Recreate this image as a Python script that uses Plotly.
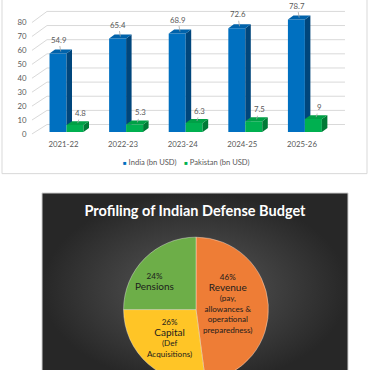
import math
import plotly.graph_objects as go

W, H = 370, 386

# ---------------- data ----------------
years = ['2021-22', '2022-23', '2023-24', '2024-25', '2025-26']
india = [54.9, 65.4, 68.9, 72.6, 78.7]
pakistan = [4.8, 5.3, 6.3, 7.5, 9]
india_name = 'India (bn USD)'
pak_name = 'Pakistan (bn USD)'
yticks = [0, 10, 20, 30, 40, 50, 60, 70, 80]

pie_title = 'Profiling of Indian Defense Budget'
pie_labels = ['Revenue', 'Capital', 'Pensions']
pie_values = [46, 26, 24]
pie_pct = ['46%', '26%', '24%']
pie_notes = ['(pay,<br>allowances &<br>operational<br>preparedness)', '(Def<br>Acquisitions)', '']

# ---------------- geometry helpers ----------------
def fx(p):
    return p / W

def fy(p):
    return 1 - p / H

X0_PX, X_UNIT = 66.5, 59.6
X_RANGE = [-0.62, 4.72]
x_dom = [fx(X0_PX + X_RANGE[0] * X_UNIT), fx(X0_PX + X_RANGE[1] * X_UNIT)]
DOM_TOP, DOM_BOT = 10, 137
y_dom = [fy(DOM_BOT), fy(DOM_TOP)]
FRONT_ZERO, FRONT_PER = 133, 1.44      # bars plane
LABEL_ZERO, LABEL_PER = 135, 1.404     # tick-label plane
BACK_ZERO, BACK_PER = 125.5, 1.425     # back wall plane
y_range = [(LABEL_ZERO - DOM_BOT) / LABEL_PER, (LABEL_ZERO - DOM_TOP) / LABEL_PER]
y2_range = [(FRONT_ZERO - DOM_BOT) / FRONT_PER, (FRONT_ZERO - DOM_TOP) / FRONT_PER]

BARGAP = 0.43
BW = (1 - BARGAP) / 2
DXC = 5.5 / X_UNIT        # depth in x units
DYV = 4.0 / FRONT_PER     # depth in y units

def px_to_c(p):
    return (p - X0_PX) / X_UNIT

GRID_X = [px_to_c(32), px_to_c(47), px_to_c(345)]

xs = list(range(len(years)))

IND_FRONT, IND_SIDE, IND_TOP = '#0070C0', '#00467C', '#0062AA'
PAK_FRONT, PAK_SIDE, PAK_TOP = '#00B050', '#007A36', '#00A046'
TXT = '#595959'
FONT = 'Lato'

fig = go.Figure()

# back-wall gridlines (label plane axis)
gx, gy = [], []
for v in yticks:
    u = (LABEL_ZERO - (BACK_ZERO - BACK_PER * v)) / LABEL_PER
    gx += [GRID_X[0], GRID_X[1], GRID_X[2], None]
    gy += [v, u, u, None]
fig.add_trace(go.Scatter(x=gx, y=gy, mode='lines', line=dict(color='#d9d9d9', width=1),
                         xaxis='x', yaxis='y', hoverinfo='skip', showlegend=False))

# bars (front plane)
fig.add_trace(go.Bar(x=xs, y=india, name=india_name, marker=dict(color=IND_FRONT, line=dict(width=0)),
                     xaxis='x', yaxis='y2', hoverinfo='skip', showlegend=False))
fig.add_trace(go.Bar(x=xs, y=pakistan, name=pak_name, marker=dict(color=PAK_FRONT, line=dict(width=0)),
                     xaxis='x', yaxis='y2', hoverinfo='skip', showlegend=False))

# 3D faces
def faces():
    isx, isy, itx, ity, psx, psy, ptx, pty = [], [], [], [], [], [], [], []
    for i, (h, p) in enumerate(zip(india, pakistan)):
        xl, xr = i - BW, i
        isx += [xr, xr + DXC, xr + DXC, xr, xr, None]
        isy += [p, p, h + DYV, h, p, None]
        itx += [xl, xr, xr + DXC, xl + DXC, xl, None]
        ity += [h, h, h + DYV, h + DYV, h, None]
        pl, pr = i, i + BW
        psx += [pr, pr + DXC, pr + DXC, pr, pr, None]
        psy += [0, DYV, p + DYV, p, 0, None]
        ptx += [pl, pr, pr + DXC, pl + DXC, pl, None]
        pty += [p, p, p + DYV, p + DYV, p, None]
    return (isx, isy, IND_SIDE), (itx, ity, IND_TOP), (psx, psy, PAK_SIDE), (ptx, pty, PAK_TOP)

for fxs, fys, col in faces():
    fig.add_trace(go.Scatter(x=fxs, y=fys, mode='lines', fill='toself', fillcolor=col,
                             line=dict(width=0, color=col), xaxis='x', yaxis='y2',
                             hoverinfo='skip', showlegend=False))

# dark panel background (decorative)
fig.add_trace(go.Scatter(x=[42, 348, 348, 42, 42], y=[194.5, 194.5, H + 2, H + 2, 194.5],
                         mode='lines', fill='toself',
                         fillgradient=dict(type='radial', colorscale=[[0, '#5a5a5a'], [1, '#272727']]),
                         line=dict(color='#cfcfcf', width=1), xaxis='x3', yaxis='y3',
                         hoverinfo='skip', showlegend=False))

# pie
PIE_CX, PIE_CY, PIE_R = 196, 312, 73
fig.add_trace(go.Pie(labels=pie_labels, values=pie_values, textinfo='none',
                     sort=False, direction='clockwise', rotation=0,
                     marker=dict(colors=['#EE7D36', '#FFC526', '#6DAE48'],
                                 line=dict(color='rgba(255,255,255,0.45)', width=0.8)),
                     domain=dict(x=[fx(PIE_CX - PIE_R), fx(PIE_CX + PIE_R)],
                                 y=[fy(PIE_CY + PIE_R), fy(PIE_CY - PIE_R)]),
                     hoverinfo='skip', showlegend=False))

annotations = []
# slice labels placed from slice mid-angles
LABEL_FRAC = [0.45, 0.53, 0.68]
LABEL_SHIFT = [-7.8, 1.1, -10.7]
total = sum(pie_values)
cum = 0
for k, (pct, lab, note, val) in enumerate(zip(pie_pct, pie_labels, pie_notes, pie_values)):
    mid = (cum + val / 2) / total * 360 + LABEL_SHIFT[k]
    cum += val
    r = PIE_R * LABEL_FRAC[k]
    lx = PIE_CX + r * math.sin(math.radians(mid))
    ly = PIE_CY - r * math.cos(math.radians(mid))
    t = f"{pct}<br><span style='font-size:10px'>{lab}</span>"
    if note:
        t += '<br>' + note
    annotations.append(dict(x=fx(lx), y=fy(ly), xref='paper', yref='paper', text=t,
                            showarrow=False, xanchor='center', yanchor='middle', align='center',
                            font=dict(family=FONT, size=8.1, color='#1c1c1c')))

for i, v in enumerate(india):
    annotations.append(dict(x=i - BW / 2 + DXC / 2, y=v + DYV / 2, xref='x', yref='y2',
                            text=f'{v:g}', showarrow=True, arrowhead=0, arrowwidth=0.8,
                            arrowcolor='#a6a6a6', ax=-2, ay=-12,
                            font=dict(family=FONT, size=7.8, color=TXT)))
for i, v in enumerate(pakistan):
    annotations.append(dict(x=i + BW / 2 + DXC / 2, y=v + DYV / 2, xref='x', yref='y2',
                            text=f'{v:g}', showarrow=True, arrowhead=0, arrowwidth=0.8,
                            arrowcolor='#a6a6a6', ax=3, ay=-10,
                            font=dict(family=FONT, size=7.8, color=TXT)))
NB = '\u00a0'
legend_text = (f"<span style='color:{IND_FRONT};font-size:6px'>■</span>{NB}{india_name}"
               f"{NB*4}<span style='color:{PAK_FRONT};font-size:6px'>■</span>{NB}{pak_name}")
annotations.append(dict(x=fx(186), y=fy(163), xref='paper', yref='paper', text=legend_text,
                        showarrow=False, xanchor='center', yanchor='middle',
                        font=dict(family=FONT, size=7.6, color=TXT)))

fig.update_layout(
    width=W, height=H, margin=dict(l=0, r=0, t=0, b=0),
    paper_bgcolor='white', plot_bgcolor='rgba(0,0,0,0)',
    barmode='group', bargap=BARGAP, bargroupgap=0,
    showlegend=False,
    title=dict(text=f'<b>{pie_title}</b>', x=fx(195), y=fy(213), xanchor='center', yanchor='middle',
               xref='paper', yref='paper',
               font=dict(family=FONT, size=14.5, color='white')),
    xaxis=dict(domain=x_dom, range=X_RANGE, tickvals=xs, ticktext=years, showgrid=False,
               zeroline=False, showline=False, ticks='', ticklabelshift=-3, ticklabelstandoff=2,
               tickfont=dict(family=FONT, size=7.8, color=TXT), fixedrange=True, anchor='y'),
    yaxis=dict(domain=y_dom, range=y_range, tickvals=yticks, showgrid=False, zeroline=False,
               showline=False, ticks='', ticklabelstandoff=2,
               tickfont=dict(family=FONT, size=7.8, color=TXT), fixedrange=True),
    yaxis2=dict(domain=y_dom, range=y2_range, overlaying='y', visible=False, fixedrange=True),
    xaxis3=dict(domain=[0, 1], range=[0, W], visible=False, fixedrange=True, anchor='y3'),
    yaxis3=dict(domain=[0, 1], range=[H, 0], visible=False, fixedrange=True, anchor='x3'),
    shapes=[dict(type='rect', xref='paper', yref='paper', x0=fx(2), x1=fx(367), y0=fy(175), y1=fy(-5),
                 line=dict(color='#d9d9d9', width=1), fillcolor='rgba(0,0,0,0)', layer='below')],
    annotations=annotations,
)

fig.write_html('out.html', config={'displayModeBar': False},
               post_script="document.body.style.margin='0';document.body.style.overflow='hidden';")
